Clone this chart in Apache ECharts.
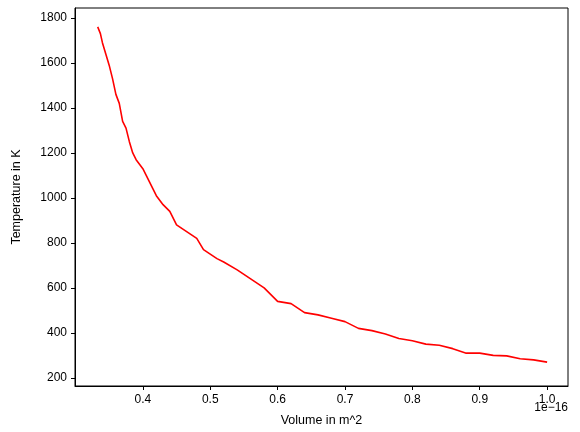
<!DOCTYPE html>
<html><head><meta charset="utf-8">
<script src="https://cdn.jsdelivr.net/npm/echarts@6/dist/echarts.min.js"></script>
<style>html,body{margin:0;padding:0;background:#fff}#c{width:580px;height:432px}</style>
</head><body><div id="c"></div>
<script>
// volume in units of 1e-16 m^2
const volume = [0.333,0.337,0.34,0.345,0.35,0.355,0.36,0.365,0.37,0.375,0.38,0.385,0.39,0.395,0.40,0.405,0.41,0.415,0.42,0.43,0.44,0.45,0.46,0.47,0.48,0.49,0.50,0.51,0.52,0.54,0.56,0.58,0.60,0.62,0.64,0.66,0.68,0.70,0.72,0.74,0.76,0.78,0.80,0.82,0.84,0.86,0.88,0.90,0.92,0.94,0.96,0.98,1.0];
const temperature = [1760,1730,1690,1640,1590,1530,1460,1420,1340,1310,1250,1200,1170,1150,1130,1100,1070,1040,1010,970,940,880,860,840,820,770,750,730,715,680,640,600,540,530,490,480,465,450,420,410,395,375,365,350,345,330,310,310,300,298,285,280,270];
const xTicks = [0.4,0.5,0.6,0.7,0.8,0.9,1.0];
const yTicks = [200,400,600,800,1000,1200,1400,1600,1800];
const chart = echarts.init(document.getElementById('c'));
const ax = {color:'#000'};
chart.setOption({
  animation:false,
  grid:{left:75,right:12,top:8,bottom:46},
  xAxis:{type:'value',min:0.2993,max:1.031,
    name:'Volume in m^2',nameLocation:'middle',nameGap:28,nameTextStyle:{color:'#000',fontSize:12.5},
    axisLine:{lineStyle:ax},axisTick:{lineStyle:ax,length:4,customValues:xTicks},splitLine:{show:false},
    axisLabel:{color:'#000',fontSize:12,customValues:xTicks,formatter:v=>v.toFixed(1)}},
  yAxis:{type:'value',min:164,max:1844,
    name:'Temperature in K',nameLocation:'middle',nameGap:52,nameTextStyle:{color:'#000',fontSize:12.5},
    axisLine:{show:true,lineStyle:ax},splitLine:{show:false},
    axisLabel:{color:'#000',fontSize:12,customValues:yTicks,formatter:v=>String(v)},
    axisTick:{show:true,length:4,lineStyle:ax,customValues:yTicks}},
  graphic:[
    {type:'rect',shape:{x:75,y:8,width:493,height:378},style:{fill:'none',stroke:'#000',lineWidth:1},silent:true},
    {type:'text',right:12,top:402,style:{text:'1e\u221216',fill:'#000',fontSize:12}}
  ],
  series:[{type:'line',data:volume.map((v,i)=>[v,temperature[i]]),showSymbol:false,
    lineStyle:{color:'#ff0000',width:1.6}}]
});
</script></body></html>
